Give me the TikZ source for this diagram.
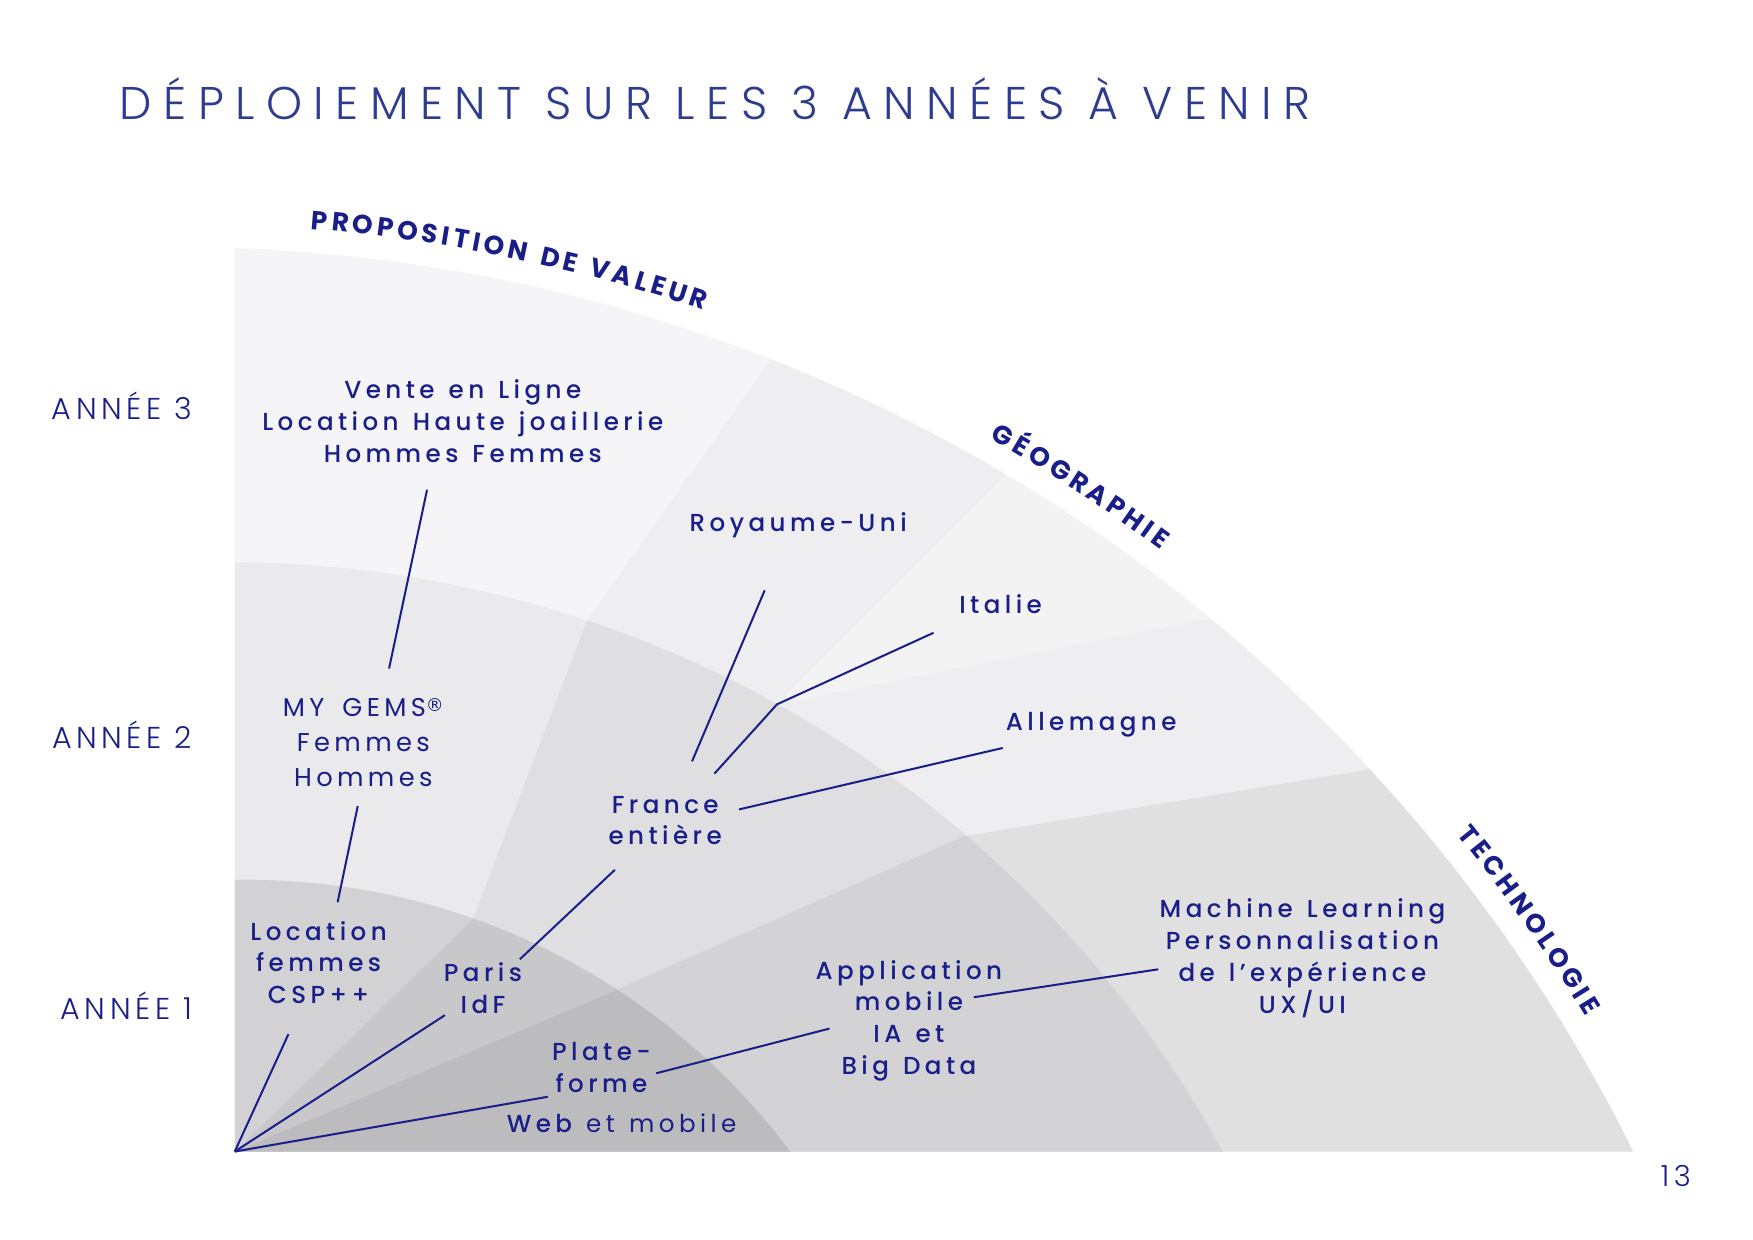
\documentclass[tikz,border=0pt]{standalone}
\usepackage{fontspec}
\usetikzlibrary{decorations.text}
\IfFontExistsTF{Poppins Medium}{\newfontfamily\fmed{Poppins Medium}[LetterSpace=18,WordSpace=1.3]}{\newfontfamily\fmed{Poppins}[LetterSpace=18,WordSpace=1.3]}
\IfFontExistsTF{Poppins Light}{\newfontfamily\flight{Poppins Light}[LetterSpace=25]}{\newfontfamily\flight{Poppins}[LetterSpace=25]}
\IfFontExistsTF{Poppins Light}{\newfontfamily\flightb{Poppins Light}[LetterSpace=15]}{\newfontfamily\flightb{Poppins}[LetterSpace=15]}
\newfontfamily\freg{Poppins}[LetterSpace=18,WordSpace=1.3]
\newfontfamily\fgems{Poppins}[LetterSpace=17,WordSpace=1.6]
\newfontfamily\fbold{Poppins}
\newfontfamily\fdejavu{DejaVu Sans}
\definecolor{navy}{HTML}{1A1E88}
\definecolor{titleblue}{HTML}{2E3C8F}
\definecolor{oProp}{HTML}{F5F5F7}
\definecolor{oGeo}{HTML}{EEEEF0}
\definecolor{oIt}{HTML}{F3F3F4}
\definecolor{oTech}{HTML}{E0E0E1}
\definecolor{mProp}{HTML}{EAEAEC}
\definecolor{mGeo}{HTML}{DFDFE1}
\definecolor{mTech}{HTML}{D3D3D5}
\definecolor{iProp}{HTML}{D2D2D4}
\definecolor{iGeo}{HTML}{C8C8CB}
\definecolor{iTech}{HTML}{BCBCBE}
\begin{document}
\begin{tikzpicture}[x=1pt,y=-1pt,
  lab/.style={font=\fmed\fontsize{22}{28.5}\selectfont, text=navy, align=center, inner sep=0pt},
  labreg/.style={font=\fgems\fontsize{23}{31}\selectfont, text=navy, align=center, inner sep=0pt},
  year/.style={font=\flightb\fontsize{27}{27}\selectfont, text=navy, inner sep=0pt},
  conn/.style={draw=navy, line width=1.8pt},
  axis/.style={decorate, decoration={text along path, text align=center, text color=navy,
     text={|\fbold\bfseries\fontsize{23.5}{23.5}\selectfont\kern3.5pt|#1}}}]
\useasboundingbox (0,0) rectangle (1568,1109);
\fill[white] (0,0) rectangle (1568,1109);
% centres of the arcs
\coordinate (Co) at (158,1674);
\coordinate (Cm) at (204,1517);
\coordinate (Ci) at (221,1394);
% sector boundaries
\coordinate (A) at (210,1030);
\coordinate (P1) at (423,822);
\coordinate (P2) at (525,555);
\coordinate (P3) at (692,318);
\coordinate (P4) at (792,176);
\coordinate (Q1) at (552,885);
\coordinate (Q2) at (862,748);
\coordinate (Q3) at (1225,688);
\coordinate (Q4) at (1515,640);
\coordinate (M) at (695,630);
\coordinate (I1) at (1000,325);
\coordinate (I2) at (1280,514);
% proposition de valeur
\begin{scope}
  \clip (A) -- (P1) -- (P2) -- (P3) -- (P4) -- (210,100) -- cycle;
  \fill[oProp] (Co) circle[radius=1453];
  \fill[mProp] (Cm) circle[radius=1014];
  \fill[iProp] (Ci) circle[radius=607];
\end{scope}
% geographie
\begin{scope}
  \clip (A) -- (Q1) -- (Q2) -- (Q3) -- (Q4) -- (P4) -- (P3) -- (P2) -- (P1) -- cycle;
  \fill[oGeo] (Co) circle[radius=1453];
  \begin{scope}
    \clip (M) -- (I1) -- (I2) -- cycle;
    \fill[oIt] (Co) circle[radius=1453];
  \end{scope}
  \fill[mGeo] (Cm) circle[radius=1014];
  \fill[iGeo] (Ci) circle[radius=607];
\end{scope}
% technologie
\begin{scope}
  \clip (A) -- (Q1) -- (Q2) -- (Q3) -- (Q4) -- (1600,1030) -- cycle;
  \fill[oTech] (Co) circle[radius=1453];
  \fill[mTech] (Cm) circle[radius=1014];
  \fill[iTech] (Ci) circle[radius=607];
\end{scope}
% title and year labels
\node[anchor=base west, font=\flight\fontsize{41}{41}\selectfont, text=titleblue, inner sep=0pt] (title) at (107,107) {DÉPLOIEMENT SUR LES 3 ANNÉES À VENIR};
\node[year] (y3) at (109,363) {ANNÉE 3};
\node[year] (y2) at (109,657) {ANNÉE 2};
\node[year] (y1) at (113,900) {ANNÉE 1};
\node[font=\flightb\fontsize{26}{26}\selectfont, text=navy, inner sep=0pt] (page) at (1499,1052) {13};
% curved axis titles
\path[axis={PROPOSITION DE VALEUR}] plot[smooth, domain=88.5:68.3, samples=40] ({158+1474*cos(\x)},{1674-1474*sin(\x)});
\path[axis={GÉOGRAPHIE}] plot[smooth, domain=67:46.9, samples=40] ({158+1474*cos(\x)},{1674-1474*sin(\x)});
\path[axis={TECHNOLOGIE}] plot[smooth, domain=45.3:25.1, samples=40] ({158+1474*cos(\x)},{1674-1474*sin(\x)});
% labels
\node[lab] (vente) at (414,377) {Vente en Ligne\\Location Haute joaillerie\\Hommes Femmes};
\node[labreg] (gems) at (325,664) {MY GEMS{\fdejavu\fontsize{16}{16}\selectfont\raisebox{5pt}{®}}\\Femmes\\Hommes};
\node[lab] (loc) at (285,861) {Location\\femmes\\CSP++};
\node[lab] (paris) at (432,884) {Paris\\IdF};
\node[lab] (france) at (595,734) {France\\entière};
\node[lab] (ru) at (714,470) {Royaume-Uni};
\node[lab] (it) at (895,540) {Italie};
\node[lab] (all) at (976,648) {Allemagne};
\node[lab] (plat) at (538,955) {Plate-\\forme};
\node[lab] (web) at (556,1005) {Web {\freg et mobile}};
\node[lab] (app) at (813,913) {Application\\mobile\\IA et\\Big Data};
\node[lab] (ml) at (1165,857) {Machine Learning\\Personnalisation\\de l’expérience\\UX/UI};
% connector end points
\coordinate (c1a) at (382,438); \coordinate (c1b) at (348,598);
\coordinate (c2a) at (320,721); \coordinate (c2b) at (302,807);
\coordinate (c3a) at (258,925);
\coordinate (c4a) at (398,908);
\coordinate (c5a) at (465,858); \coordinate (c5b) at (550,778);
\coordinate (c6a) at (619,681); \coordinate (c6b) at (684,528);
\coordinate (c7a) at (639,692); \coordinate (c7b) at (835,566);
\coordinate (c8a) at (661,724); \coordinate (c8b) at (897,669);
\coordinate (c9a) at (490,981);
\coordinate (c10a) at (587,960); \coordinate (c10b) at (742,920);
\coordinate (c11a) at (871,892); \coordinate (c11b) at (1036,867);
% connectors
\draw[conn] (c1a) -- (c1b);
\draw[conn] (c2a) -- (c2b);
\draw[conn] (c3a) -- (A);
\draw[conn] (c4a) -- (A);
\draw[conn] (c5a) -- (c5b);
\draw[conn] (c6a) -- (c6b);
\draw[conn, line join=miter] (c7a) -- (M) -- (c7b);
\draw[conn] (c8a) -- (c8b);
\draw[conn] (c9a) -- (A);
\draw[conn] (c10a) -- (c10b);
\draw[conn] (c11a) -- (c11b);
\end{tikzpicture}
\end{document}
